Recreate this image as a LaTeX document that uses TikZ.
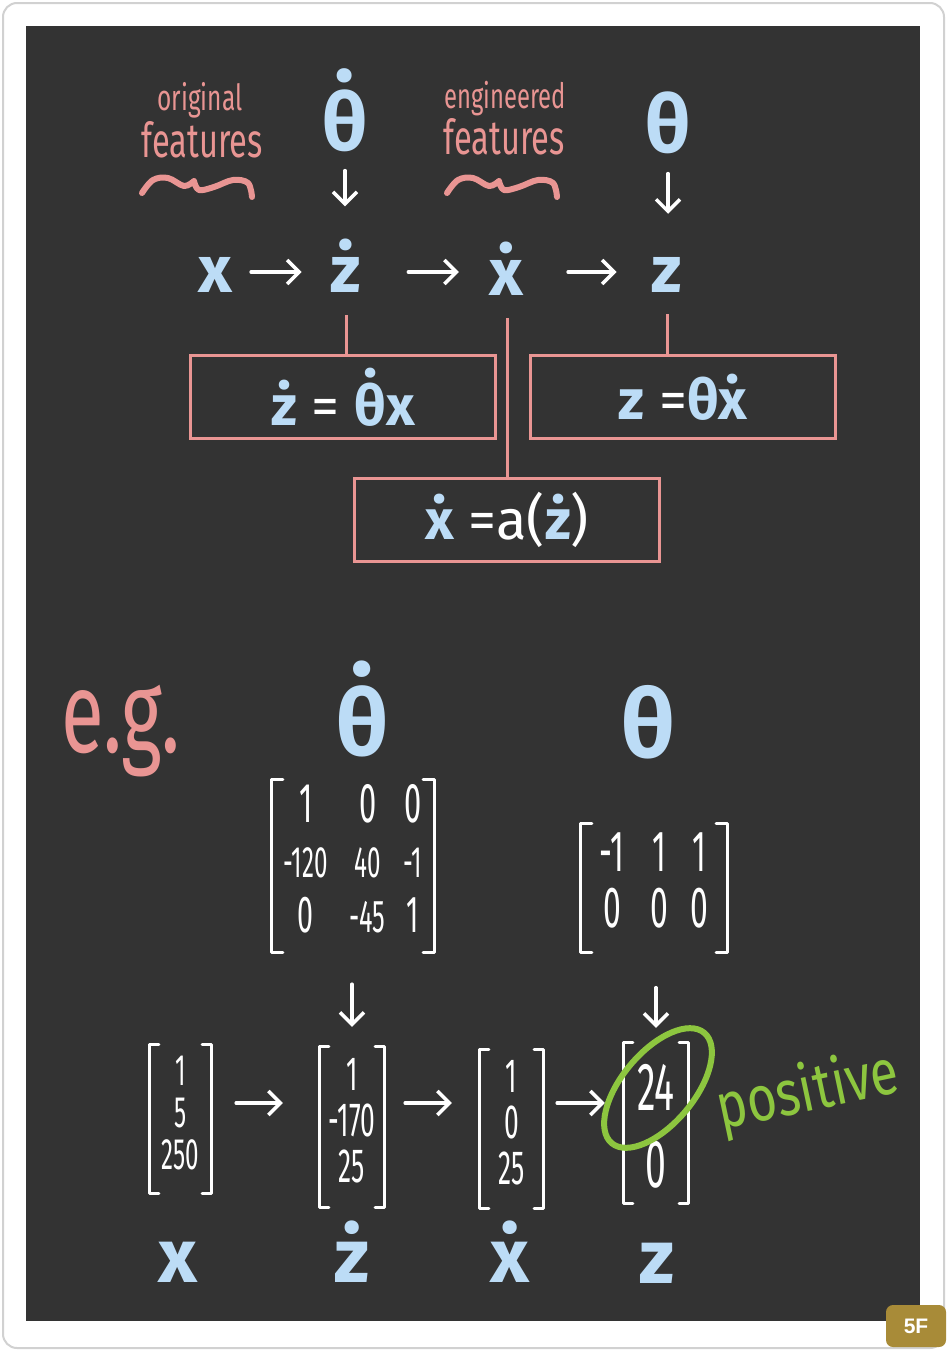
\documentclass[tikz,border=0pt]{standalone}
\usepackage{fontspec}
\setmainfont{Fira Sans}
\newfontfamily\hand[FakeStretch=0.68]{Fira Sans}
\newfontfamily\handw[FakeStretch=0.8]{Fira Sans}
\newfontfamily\num[FakeStretch=0.55]{Fira Sans}
\newfontfamily\sym{Fira Sans}
\newfontfamily\badgefont{Liberation Sans}
\usetikzlibrary{arrows.meta,calc}
\definecolor{bg}{HTML}{333333}
\definecolor{pk}{HTML}{E99593}
\definecolor{bl}{HTML}{BCDCF6}
\definecolor{gr}{HTML}{8DC63F}
\definecolor{gold}{HTML}{A88B38}
\newcommand\fs[1]{\fontsize{#1}{#1}\selectfont}
\newcommand\fsb[2]{\fontsize{#1}{#2}\selectfont}
\newcommand\mybrk[2]{%
  \draw[bracket] ([xshift=#2]#1.north west) -- (#1.north west) -- (#1.south west) -- ([xshift=#2]#1.south west);
  \draw[bracket] ([xshift=-#2]#1.north east) -- (#1.north east) -- (#1.south east) -- ([xshift=-#2]#1.south east);}
\newcommand\squiggle{%
  \draw[squig] plot[smooth,tension=0.6] coordinates {(142,193) (153,180) (168,178) (184,186) (194,181)}
     plot[smooth,tension=0.6] coordinates {(194,181) (199,190) (214,187) (233,180) (248,183) (252,197)};}
\begin{document}
\begin{tikzpicture}[x=1pt,y=-1pt,
  arr/.style={draw=white,line width=3.5pt,line cap=round,-{Straight Barb[length=12pt,width=24pt]}},
  sy/.style={text=bl,inner sep=0pt,anchor=base},
  symf/.style={font={\sym\bfseries\fs{#1}}},
  lbl/.style={text=pk,inner sep=0pt,anchor=base,font={\hand\fs{#1}}},
  pl/.style={draw=pk,line width=3pt},
  squig/.style={draw=pk,line width=6pt,line cap=round,line join=round},
  eqbox/.style={draw=pk,line width=3pt,minimum width=305pt,minimum height=83pt,inner sep=0pt,text=white,font={\sym\fs{56}}},
  mat/.style={inner sep=0pt,text=white},
  bracket/.style={draw=white,line width=3pt,line cap=round,line join=round},
]
\useasboundingbox (0,0) rectangle (948,1352);
\fill[white] (0,0) rectangle (948,1352);
\draw[black!18,line width=2pt,rounded corners=14pt] (3,3) rectangle (944,1348);
\fill[bg] (26,26) rectangle (920,1321);

% ---------- top section ----------
\node[lbl=36] (orig1) at (200,110) {original};
\node[lbl=48] (orig2) at (202,157) {features};
\node[lbl=35] (eng1) at (505,108) {engineered};
\node[lbl=48] (eng2) at (504,154) {features};
\squiggle
\begin{scope}[xshift=305pt]
\squiggle
\end{scope}

\node[sy,symf=80] (thd1) at (345,150) {θ^^^^0307};
\node[sy,symf=80] (th1) at (668,152) {θ};

\coordinate (rowA) at (0,272);
\node[sy,symf=66] (x1) at (215,292) {x};
\node[sy,symf=66] (zd1) at (346,292) {ż};
\node[sy,symf=66] (xd1) at (506,295) {x^^^^0307};
\node[sy,symf=66] (z1) at (667,292) {z};

\draw[arr,shorten <=19pt,shorten >=32pt] (thd1.south) -- (thd1.south |- zd1.north);
\draw[arr,shorten <=20pt,shorten >=43pt] (th1.south) -- (th1.south |- z1.north);
\draw[arr,shorten <=19pt,shorten >=29pt] (x1.east |- rowA) -- (zd1.west |- rowA);
\draw[arr,shorten <=47pt,shorten >=30pt] (zd1.east |- rowA) -- (xd1.west |- rowA);
\draw[arr,shorten <=45pt,shorten >=35pt] (xd1.east |- rowA) -- (z1.west |- rowA);

\node[eqbox] (box1) at (343,397) {{\color{bl}\bfseries ż} = {\color{bl}\bfseries θ^^^^0307x}};
\node[eqbox] (box2) at (683,397) {{\color{bl}\bfseries z} ={\color{bl}\bfseries θx^^^^0307}};
\node[eqbox] (box3) at (507,520) {{\color{bl}\bfseries x^^^^0307} =a({\color{bl}\bfseries ż})};

\draw[pl,shorten <=23pt] (zd1.south) -- (zd1.south |- box1.north);
\draw[pl,shorten <=22pt] (z1.south) -- (z1.south |- box2.north);
\draw[pl,shorten >=23pt] (box3.north) -- (box3.north |- xd1.south);

% ---------- bottom section ----------
\node[lbl=115] (eg) at (121,752) {e.g.};
\node[sy,symf=92] (thd2) at (362,755) {θ^^^^0307};
\node[sy,symf=95] (th2) at (648,757) {θ};

\node[mat,minimum width=162pt,minimum height=172pt,font={\num\fsb{50}{55}}] (M1) at (353,866)
 {\begin{tabular}{@{}c@{\hspace{22pt}}c@{\hspace{18pt}}c@{}}{\fs{56}1} & {\fs{56}0} & {\fs{56}0}\\ {\fs{44}-120} & {\fs{44}40} & {\fs{44}-1}\\ {\fs{52}0} & {\fs{46}-45} & {\fs{52}1}\end{tabular}};
\mybrk{M1}{11pt}
\node[mat,minimum width=146pt,minimum height=129pt,font={\num\fsb{58}{55}}] (M2) at (654,888)
 {\begin{tabular}{@{}c@{\hspace{26pt}}c@{\hspace{22pt}}c@{}}-1 & 1 & 1\\ 0 & 0 & 0\end{tabular}};
\mybrk{M2}{11pt}

\node[mat,minimum width=61pt,minimum height=148pt,font={\num\fsb{44}{42}}] (V1) at (180.5,1119)
 {\begin{tabular}{@{}c@{}}1\\5\\250\end{tabular}};
\mybrk{V1}{9pt}
\node[mat,minimum width=64pt,minimum height=160pt,font={\num\fsb{48}{45}}] (V2) at (352,1127)
 {\begin{tabular}{@{}c@{}}1\\-170\\25\end{tabular}};
\mybrk{V2}{9pt}
\node[mat,minimum width=63pt,minimum height=159pt,font={\num\fsb{48}{44}}] (V3) at (511.5,1129)
 {\begin{tabular}{@{}c@{}}1\\0\\25\end{tabular}};
\mybrk{V3}{9pt}
\node[mat,minimum width=64pt,minimum height=160pt,font={\num\fs{68}\renewcommand\arraystretch{0}}] (V4) at (656,1123)
 {\begin{tabular}{@{}c@{}}\rule{0pt}{52pt}24\\[31pt]0\end{tabular}};
\mybrk{V4}{9pt}

\draw[arr,shorten <=32pt,shorten >=20pt] (M1.south -| V2.north) -- (V2.north);
\draw[arr,shorten <=35pt,shorten >=15pt] (M2.south -| V4.north) -- (V4.north);

\coordinate (rowB) at (0,1103);
\draw[arr,shorten <=25pt,shorten >=37pt] (V1.east |- rowB) -- (V2.west |- rowB);
\draw[arr,shorten <=21pt,shorten >=28pt] (V2.east |- rowB) -- (V3.west |- rowB);
\draw[arr,shorten <=14pt,shorten >=19pt] (V3.east |- rowB) -- (V4.west |- rowB);

\draw[gr,line width=6pt] (658,1088) ellipse[x radius=72pt,y radius=36pt,rotate=50];
\node[text=gr,inner sep=0pt,rotate=12,font={\handw\fs{64}}] (pos) at (808,1093) {positive};

\node[sy,symf=76] (x2) at (178,1282) {x};
\node[sy,symf=76] (zd2) at (352,1282) {ż};
\node[sy,symf=76] (xd2) at (510,1282) {x^^^^0307};
\node[sy,symf=76] (z2) at (657,1283) {z};

\node[fill=gold,rounded corners=7pt,minimum width=60pt,minimum height=42pt,inner sep=0pt,text=white,font={\badgefont\bfseries\fs{21}}] (badge) at (916,1326) {5F};
\end{tikzpicture}
\end{document}
